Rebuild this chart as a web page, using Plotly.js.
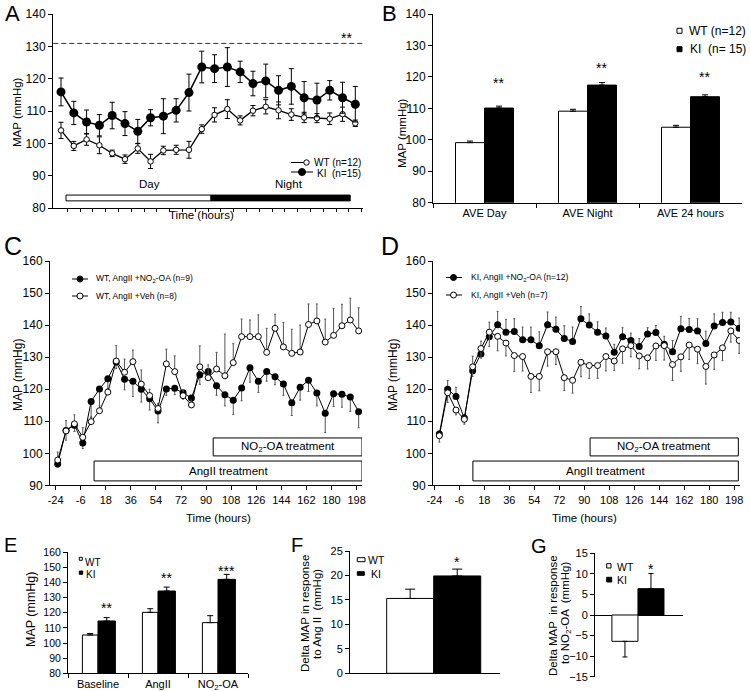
<!DOCTYPE html>
<html><head><meta charset="utf-8">
<script src="https://cdn.plot.ly/plotly-3.0.1.min.js"></script>
<style>html,body{margin:0;padding:0;background:#fff}#chart{width:750px;height:691px}</style>
</head><body><div id="chart"></div>
<script>
// ---------------- DATA ----------------
// Panel A: 24 h telemetry MAP (mmHg)
const A_WT     = [104.0, 99.2, 101.2, 99.4, 96.9, 95.1, 98.4, 94.4, 97.8, 98.0, 98.0, 104.4, 108.8, 110.6, 107.1, 110.1, 111.3, 110.2, 108.9, 108.0, 107.8, 107.6, 109.0, 106.2];
const A_WT_ERR = [2.5, 1.4, 1.8, 2.6, 1.0, 1.3, 1.5, 2.2, 1.3, 1.4, 2.6, 1.3, 2.2, 2.9, 1.4, 1.6, 2.2, 2.6, 1.8, 1.6, 1.4, 1.8, 2.2, 1.0];
const A_KI     = [115.9, 109.4, 106.6, 105.6, 108.6, 106.1, 103.7, 107.9, 108.4, 110.2, 115.7, 123.6, 123.1, 123.6, 122.1, 118.5, 119.3, 116.4, 117.6, 114.1, 113.4, 116.4, 114.1, 112.1];
const A_KI_ERR = [4.3, 3.6, 3.7, 3.3, 4.1, 3.7, 3.7, 2.5, 5.4, 3.6, 5.7, 4.9, 4.3, 6.0, 3.3, 3.8, 5.2, 4.5, 5.5, 5.0, 5.2, 3.0, 4.8, 5.5];

// Panel B: averages
const B_CATS   = ['AVE Day', 'AVE Night', 'AVE 24 hours'];
const B_WT     = [99.1, 109.1, 104.0];
const B_WT_ERR = [0.5, 0.6, 0.6];
const B_KI     = [110.1, 117.4, 113.7];
const B_KI_ERR = [0.6, 0.8, 0.6];

// Panels C/D: time course (every 6 h), tick labels in hours
const T_LABELS = ['-24', '-6', '18', '36', '54', '72', '90', '108', '126', '144', '162', '180', '198'];
const C_NO2     = [96.7, 107.1, 108.8, 103.2, 116.2, 120.1, 123.3, 128.5, 123.1, 122.5, 120.0, 117.0, 113.2, 120.1, 120.3, 118.9, 117.3, 124.5, 125.5, 121.1, 118.3, 116.6, 120.4, 126.7, 122.5, 125.5, 123.9, 121.6, 115.8, 120.6, 122.8, 118.8, 112.5, 118.6, 118.4, 117.6, 113.0];
const C_NO2_ERR = [1.0, 3.0, 2.0, 1.7, 5.0, 6.5, 3.0, 2.0, 3.3, 4.8, 4.0, 3.5, 3.7, 2.0, 2.0, 2.0, 2.0, 3.0, 2.0, 3.0, 3.5, 4.5, 4.0, 4.5, 3.5, 3.0, 2.5, 3.5, 4.0, 4.0, 3.5, 4.0, 6.0, 4.0, 4.0, 4.5, 5.0];
const C_VEH     = [97.9, 107.0, 109.2, 105.0, 109.9, 113.3, 119.1, 128.8, 125.3, 128.6, 121.6, 118.0, 114.0, 127.9, 125.5, 118.0, 115.1, 127.0, 123.6, 126.3, 124.2, 128.3, 136.4, 136.4, 136.4, 131.5, 139.0, 133.2, 131.2, 131.6, 140.2, 141.3, 134.7, 136.8, 139.8, 141.6, 138.2];
const C_VEH_ERR = [2.5, 3.2, 2.8, 3.0, 1.5, 1.5, 1.0, 4.8, 4.1, 3.6, 4.4, 2.0, 1.5, 4.6, 4.9, 1.5, 1.5, 6.5, 4.0, 5.2, 13.0, 5.9, 5.5, 5.2, 6.8, 7.5, 4.4, 7.6, 7.5, 8.4, 6.4, 5.3, 7.2, 8.4, 6.7, 6.8, 7.2];
const D_NO2     = [106.0, 120.0, 117.7, 111.0, 125.8, 131.0, 136.4, 140.1, 137.8, 138.0, 135.4, 135.4, 133.6, 140.1, 138.7, 135.8, 134.9, 142.0, 140.0, 137.8, 136.6, 131.5, 136.4, 135.2, 133.3, 137.2, 137.7, 134.0, 131.7, 138.9, 138.6, 138.2, 134.3, 139.7, 140.8, 141.0, 139.0];
const D_NO2_ERR = [1.0, 2.7, 2.9, 1.0, 4.5, 4.0, 4.5, 4.2, 4.0, 4.0, 4.0, 4.0, 4.3, 4.0, 3.8, 4.0, 4.5, 3.8, 3.5, 3.2, 2.5, 2.5, 2.8, 2.3, 2.5, 2.0, 2.2, 2.5, 3.5, 3.8, 3.5, 3.8, 3.8, 3.8, 3.2, 3.0, 3.2];
const D_VEH     = [105.5, 118.9, 113.5, 110.6, 127.0, 132.7, 137.8, 136.5, 134.4, 130.5, 130.2, 124.0, 124.0, 131.7, 131.7, 123.6, 122.8, 128.4, 127.4, 127.4, 130.2, 128.8, 132.6, 133.6, 130.4, 129.8, 133.5, 133.6, 127.7, 130.1, 133.8, 132.5, 127.1, 130.7, 132.9, 138.2, 135.2];
const D_VEH_ERR = [2.0, 3.0, 1.5, 1.5, 3.0, 3.0, 4.5, 4.5, 4.0, 5.0, 4.5, 5.0, 4.5, 4.5, 4.0, 4.0, 4.0, 4.5, 4.0, 4.0, 4.5, 3.0, 4.5, 3.5, 4.0, 3.5, 4.5, 4.5, 5.0, 4.5, 4.5, 4.5, 5.5, 4.5, 4.0, 3.5, 4.0];

// Panel E
const E_CATS   = ['Baseline', 'AngII', 'NO<sub>2</sub>-OA'];
const E_WT     = [105.3, 120.3, 113.5];
const E_WT_ERR = [1.0, 2.4, 4.6];
const E_KI     = [114.6, 134.4, 142.1];
const E_KI_ERR = [2.2, 2.6, 3.3];

// Panels F, G (WT, KI)
const FG_GROUPS = ['WT', 'KI'];
const F_VALS = [15.3, 19.9];
const F_ERR  = [1.9, 1.4];
const G_VALS = [-6.4, 6.4];
const G_ERR  = [3.8, 3.7];

// ---------------- HELPERS ----------------
const FONT = 'Liberation Sans, Arial, Helvetica, sans-serif';
const W = 750, H = 691;
const PX = v => v / W, PY = v => 1 - v / H;
const idx = arr => arr.map((_, i) => i);
const zeros = arr => arr.map(() => 0);

function errBars(plus, minus, color, w) {
  return {type: 'data', symmetric: false, array: plus, arrayminus: minus, color: color, thickness: 1, width: w, visible: true};
}

const traces = [];
// A
traces.push({type: 'scatter', mode: 'lines+markers', x: idx(A_WT), y: A_WT, xaxis: 'x', yaxis: 'y',
  line: {color: '#000', width: 1.3}, marker: {symbol: 'circle', size: 5.5, color: '#fff', line: {color: '#000', width: 1}},
  error_y: {type: 'data', array: A_WT_ERR, color: '#000', thickness: 1, width: 2.5}});
traces.push({type: 'scatter', mode: 'lines+markers', x: idx(A_KI), y: A_KI, xaxis: 'x', yaxis: 'y',
  line: {color: '#000', width: 1.5}, marker: {symbol: 'circle', size: 9, color: '#000'},
  error_y: {type: 'data', array: A_KI_ERR, color: '#000', thickness: 1, width: 2.5}});
// B
traces.push({type: 'bar', x: B_CATS, y: B_WT, xaxis: 'x2', yaxis: 'y2',
  marker: {color: '#fff', line: {color: '#000', width: 1}}, error_y: errBars(B_WT_ERR, zeros(B_WT_ERR), '#000', 3)});
traces.push({type: 'bar', x: B_CATS, y: B_KI, xaxis: 'x2', yaxis: 'y2',
  marker: {color: '#000', line: {color: '#000', width: 1}}, error_y: errBars(B_KI_ERR, zeros(B_KI_ERR), '#000', 3)});
// C
traces.push({type: 'scatter', mode: 'lines+markers', x: idx(C_NO2), y: C_NO2, xaxis: 'x3', yaxis: 'y3',
  line: {color: '#000', width: 1}, marker: {size: 7, color: '#000'},
  error_y: errBars(zeros(C_NO2_ERR), C_NO2_ERR, '#555', 1)});
traces.push({type: 'scatter', mode: 'lines+markers', x: idx(C_VEH), y: C_VEH, xaxis: 'x3', yaxis: 'y3',
  line: {color: '#000', width: 1}, marker: {size: 6, color: '#fff', line: {color: '#000', width: 1}},
  error_y: errBars(C_VEH_ERR, zeros(C_VEH_ERR), '#555', 1)});
// D
traces.push({type: 'scatter', mode: 'lines+markers', x: idx(D_NO2), y: D_NO2, xaxis: 'x4', yaxis: 'y4',
  line: {color: '#000', width: 1}, marker: {size: 7, color: '#000'},
  error_y: errBars(D_NO2_ERR, zeros(D_NO2_ERR), '#555', 1)});
traces.push({type: 'scatter', mode: 'lines+markers', x: idx(D_VEH), y: D_VEH, xaxis: 'x4', yaxis: 'y4',
  line: {color: '#000', width: 1}, marker: {size: 6, color: '#fff', line: {color: '#000', width: 1}},
  error_y: errBars(zeros(D_VEH_ERR), D_VEH_ERR, '#555', 1)});
// E
traces.push({type: 'bar', x: E_CATS, y: E_WT, xaxis: 'x5', yaxis: 'y5', width: 0.26, offset: -0.26,
  marker: {color: '#fff', line: {color: '#000', width: 1}}, error_y: errBars(E_WT_ERR, zeros(E_WT_ERR), '#000', 3)});
traces.push({type: 'bar', x: E_CATS, y: E_KI, xaxis: 'x5', yaxis: 'y5', width: 0.29, offset: 0,
  marker: {color: '#000', line: {color: '#000', width: 1}}, error_y: errBars(E_KI_ERR, zeros(E_KI_ERR), '#000', 3)});
// F
traces.push({type: 'bar', x: idx(FG_GROUPS), y: F_VALS, xaxis: 'x6', yaxis: 'y6', width: 1,
  marker: {color: ['#fff', '#000'], line: {color: '#000', width: 1}}, error_y: errBars(F_ERR, zeros(F_ERR), '#000', 5)});
// G
traces.push({type: 'bar', x: idx(FG_GROUPS), y: G_VALS, xaxis: 'x7', yaxis: 'y7', width: 1,
  marker: {color: ['#fff', '#000'], line: {color: '#000', width: 1}},
  error_y: errBars(G_VALS.map((v, i) => v > 0 ? G_ERR[i] : 0), G_VALS.map((v, i) => v < 0 ? G_ERR[i] : 0), '#000', 2.5)});

// ---------------- LAYOUT ----------------
function axis(extra) {
  return Object.assign({showline: true, linecolor: '#000', linewidth: 1, ticks: 'outside', ticklen: 4, tickcolor: '#000',
    tickwidth: 1, showgrid: false, zeroline: false, fixedrange: true, tickfont: {size: 12, color: '#000'}}, extra);
}
const layout = {
  width: W, height: H, margin: {l: 0, r: 0, t: 0, b: 0}, showlegend: false,
  paper_bgcolor: '#fff', plot_bgcolor: 'rgba(0,0,0,0)',
  font: {family: FONT, color: '#000', size: 12},
  barmode: 'group', bargap: 0.437, bargroupgap: 0,
  // A
  xaxis: axis({domain: [PX(53), PX(363)], anchor: 'y', range: [-0.625, 23.6], tickvals: idx(A_WT).map(i => i + 0.5), showticklabels: false, ticklen: 3}),
  yaxis: axis({domain: [PY(208), PY(14)], anchor: 'x', range: [80, 140], dtick: 10}),
  // B
  xaxis2: axis({domain: [PX(433), PX(742)], anchor: 'y2', type: 'category', range: [-0.5, 2.5], tickson: 'boundaries', tickfont: {size: 11}}),
  yaxis2: axis({domain: [PY(202.7), PY(14)], anchor: 'x2', range: [80, 140], dtick: 10}),
  // C
  xaxis3: axis({domain: [PX(50), PX(362)], anchor: 'y3', range: [-0.92, 36.4], tickvals: T_LABELS.map((_, k) => 3 * k - 0.25), ticktext: T_LABELS, tickfont: {size: 11}}),
  yaxis3: axis({domain: [PY(485.4), PY(261)], anchor: 'x3', range: [90, 160], dtick: 10}),
  // D
  xaxis4: axis({domain: [PX(433), PX(740)], anchor: 'y4', range: [-0.76, 36.1], tickvals: T_LABELS.map((_, k) => 3 * k - 0.6), ticktext: T_LABELS, tickfont: {size: 11}}),
  yaxis4: axis({domain: [PY(485.4), PY(261)], anchor: 'x4', range: [90, 160], dtick: 10}),
  // E
  xaxis5: axis({domain: [PX(68), PX(248)], anchor: 'y5', type: 'category', range: [-0.5, 2.5], tickson: 'boundaries', tickfont: {size: 11}}),
  yaxis5: axis({domain: [PY(673.3), PY(552.3)], anchor: 'x5', range: [80, 160], dtick: 10, tickfont: {size: 10.5}}),
  // F
  xaxis6: axis({domain: [PX(350), PX(500)], anchor: 'y6', range: [-1.28, 1.91], ticks: '', showticklabels: false}),
  yaxis6: axis({domain: [PY(673.3), PY(551)], anchor: 'x6', range: [0, 25], dtick: 5, tickfont: {size: 11}}),
  // G
  xaxis7: axis({domain: [PX(595), PX(683)], anchor: 'y7', range: [-1.15, 2.23], ticks: '', showticklabels: false, showline: false}),
  yaxis7: axis({domain: [PY(676.7), PY(553.3)], anchor: 'x7', range: [-15, 15], dtick: 5, tickfont: {size: 11},
    zeroline: true, zerolinecolor: '#000', zerolinewidth: 1}),
  shapes: [], annotations: []
};

const S = layout.shapes, N = layout.annotations;
function txt(text, x, y, o) {
  N.push(Object.assign({text: text, x: x, y: y, xref: 'paper', yref: 'paper', showarrow: false,
    xanchor: 'center', yanchor: 'middle', font: {family: FONT, size: 12, color: '#000'}}, o || {}));
}
function ptxt(text, xpx, ypx, o) { txt(text, PX(xpx), PY(ypx), o); }
function prect(x0, y0, x1, y1, fill) {
  S.push({type: 'rect', xref: 'paper', yref: 'paper', x0: PX(x0), x1: PX(x1), y0: PY(y0), y1: PY(y1),
    fillcolor: fill, line: {color: '#000', width: 1}});
}
function pline(x0, y0, x1, y1) {
  S.push({type: 'line', xref: 'paper', yref: 'paper', x0: PX(x0), x1: PX(x1), y0: PY(y0), y1: PY(y1), line: {color: '#000', width: 1}});
}
function pcirc(cx, cy, r, fill) {
  S.push({type: 'circle', xref: 'paper', yref: 'paper', x0: PX(cx - r), x1: PX(cx + r), y0: PY(cy + r), y1: PY(cy - r),
    fillcolor: fill, line: {color: '#000', width: 1}});
}

// Panel letters
[['A', 3, 14, 22], ['B', 380, 14, 22], ['C', 2, 246, 25], ['D', 379, 246, 25],
 ['E', 2, 545, 20], ['F', 289, 545, 20], ['G', 529, 546, 20]].forEach(([t, x, y, s]) =>
  ptxt(t, x, y, {xanchor: 'left', font: {family: FONT, size: s, color: '#000'}}));

// Axis titles
const ytitle = (t, x, y, s) => ptxt(t, x, y, {textangle: -90, font: {family: FONT, size: s, color: '#000'}});
ytitle('MAP (mmHg)', 17, 112, 11.5);
ytitle('MAP (mmHg)', 402, 133, 11.5);
ytitle('MAP (mmHg)', 18, 375, 12);
ytitle('MAP (mmHg)', 393, 375, 12);
ytitle('MAP (mmHg)', 31, 610, 12.5);
ytitle('Delta MAP in response', 305, 614, 11.5);
ytitle('to Ang II  (mmHg)', 317, 614, 11.5);
ytitle('Delta MAP  in response', 553, 616, 11.5);
ytitle('to NO<sub>2</sub>-OA  (mmHg)', 566, 613, 11.5);
ptxt('Time (hours)', 202, 215, {font: {family: FONT, size: 11.5}});
ptxt('Time (hours)', 218, 518, {font: {family: FONT, size: 11.5}});
ptxt('Time (hours)', 584, 518, {font: {family: FONT, size: 11.5}});

// Panel A decorations
S.push({type: 'line', xref: 'x', yref: 'y', x0: -0.6, x1: 23.6, y0: 130.9, y1: 130.9, line: {color: '#333', width: 1, dash: '5px,3px'}});
S.push({type: 'rect', xref: 'x', yref: 'y', x0: 0.39, x1: 11.72, y0: 82.2, y1: 84.0, fillcolor: '#fff', line: {color: '#000', width: 1}});
S.push({type: 'rect', xref: 'x', yref: 'y', x0: 11.72, x1: 22.6, y0: 82.2, y1: 84.0, fillcolor: '#000', line: {color: '#000', width: 1}});
N.push({text: 'Day', x: 6.95, y: 87.4, xref: 'x', yref: 'y', showarrow: false, font: {family: FONT, size: 11.5}});
N.push({text: 'Night', x: 17.8, y: 87.4, xref: 'x', yref: 'y', showarrow: false, font: {family: FONT, size: 11.5}});
N.push({text: '**', x: 22.3, y: 132.6, xref: 'x', yref: 'y', showarrow: false, font: {family: FONT, size: 14}});
// A legend
pline(291, 162.5, 304, 162.5); pcirc(306.5, 162.5, 2.7, '#fff');
ptxt('WT (n=12)', 363, 162.5, {xanchor: 'right', font: {family: FONT, size: 10}});
pline(291, 172, 313, 172); pcirc(302, 172, 3.5, '#000');
ptxt('KI  (n=15)', 363, 173.5, {xanchor: 'right', font: {family: FONT, size: 10}});

// B stars + legend
[118.1, 122.7, 120.0].forEach((v, i) => N.push({text: '**', x: i + 0.14, y: v, xref: 'x2', yref: 'y2', showarrow: false, font: {family: FONT, size: 14}}));
prect(677, 28.3, 682, 33.3, '#fff');
ptxt('WT (n=12)', 748, 31, {xanchor: 'right', font: {family: FONT, size: 12}});
prect(677, 46.7, 682, 51.7, '#000');
ptxt('KI  (n= 15)', 748, 49.5, {xanchor: 'right', font: {family: FONT, size: 12}});

// C / D legends
function lineLegend(x0, x1, cx, cy, fill, text, tx) {
  pline(x0, cy, x1, cy); pcirc(cx, cy, 3, fill);
  ptxt(text, tx, cy, {xanchor: 'left', font: {family: FONT, size: 8.5}});
}
lineLegend(72, 88, 80, 279, '#000', 'WT, AngII +NO<sub>2</sub>-OA (n=9)', 94);
lineLegend(72, 88, 80, 296, '#fff', 'WT, AngII +Veh (n=8)', 94);
lineLegend(446, 462, 453.5, 277.5, '#000', 'KI, AngII +NO<sub>2</sub>-OA (n=12)', 469);
lineLegend(446, 462, 453.5, 295, '#fff', 'KI, AngII +Veh (n=7)', 469);

// C / D treatment boxes
function box(xa, ya, x0, x1, y0, y1, text) {
  S.push({type: 'rect', xref: xa, yref: ya, x0: x0, x1: x1, y0: y0, y1: y1, fillcolor: '#fff', line: {color: '#000', width: 1}});
  N.push({text: text, x: (x0 + x1) / 2, y: (y0 + y1) / 2, xref: xa, yref: ya, showarrow: false, font: {family: FONT, size: 11.5}});
}
box('x3', 'y3', 18.6, 36.4, 99.2, 104.8, 'NO<sub>2</sub>-OA treatment');
box('x3', 'y3', 4.35, 36.4, 91.4, 97.6, 'AngII treatment');
box('x4', 'y4', 18.1, 35.9, 99.2, 104.8, 'NO<sub>2</sub>-OA treatment');
box('x4', 'y4', 4.03, 35.9, 91.4, 97.6, 'AngII treatment');

// E stars + legend
[['**', 123.2], ['**', 143.0], ['***', 147.6]].forEach(([t, v], i) =>
  N.push({text: t, x: i + 0.145, y: v, xref: 'x5', yref: 'y5', showarrow: false, font: {family: FONT, size: 14}}));
prect(79.3, 557.3, 82.3, 560.3, '#fff');
ptxt('WT', 83, 562.5, {xanchor: 'left', font: {family: FONT, size: 10}});
prect(79.3, 571, 82.7, 574.3, '#000');
ptxt('KI', 84, 574, {xanchor: 'left', font: {family: FONT, size: 10}});

// F star + legend
N.push({text: '*', x: 1, y: 22.7, xref: 'x6', yref: 'y6', showarrow: false, font: {family: FONT, size: 14}});
prect(357.3, 557.7, 365, 561.7, '#fff');
ptxt('WT', 365.5, 560, {xanchor: 'left', font: {family: FONT, size: 10.5}});
prect(357.3, 571.7, 364.3, 575.3, '#000');
ptxt('KI', 368.5, 573.7, {xanchor: 'left', font: {family: FONT, size: 10.5}});

// G star + legend
N.push({text: '*', x: 1, y: 11.3, xref: 'x7', yref: 'y7', showarrow: false, font: {family: FONT, size: 14}});
prect(606.7, 563.7, 611, 568, '#fff');
ptxt('WT', 614.5, 566.7, {xanchor: 'left', font: {family: FONT, size: 10.5}});
prect(606.7, 577.3, 611.7, 582, '#000');
ptxt('KI', 615, 579.7, {xanchor: 'left', font: {family: FONT, size: 10.5}});

Plotly.newPlot('chart', traces, layout, {staticPlot: true, displayModeBar: false});
</script></body></html>
